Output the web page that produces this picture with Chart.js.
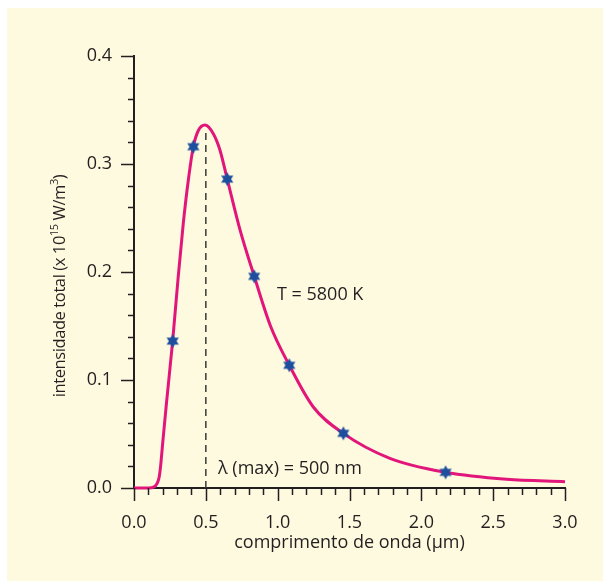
<!DOCTYPE html>
<html>
<head>
<meta charset="utf-8">
<script src="https://cdn.jsdelivr.net/npm/chart.js@4"></script>
<style>
  html, body { margin: 0; padding: 0; background: #fff; }
  canvas { display: block; }
</style>
</head>
<body>
<canvas id="chart" width="603" height="581"></canvas>
<script>
// Planck curve for T = 5800 K (x in um, y in 10^15 W/m^3)
const curveX = [0, 0.05, 0.10, 0.14, 0.16, 0.175, 0.185, 0.20, 0.227, 0.269, 0.308, 0.343, 0.378, 0.413, 0.448, 0.494, 0.552, 0.598, 0.649, 0.738, 0.837, 0.95, 1.081, 1.248, 1.457, 1.781, 2.169, 2.593, 3.0];
const curveY = [0, 0, 0, 0.001, 0.004, 0.010, 0.020, 0.042, 0.080, 0.136, 0.196, 0.245, 0.285, 0.316, 0.331, 0.336, 0.328, 0.313, 0.286, 0.239, 0.196, 0.150, 0.1136, 0.075, 0.0506, 0.0275, 0.0145, 0.008, 0.0058];

// star markers
const starX = [0.269, 0.413, 0.649, 0.837, 1.081, 1.457, 2.169];
const starY = [0.136, 0.316, 0.286, 0.196, 0.1136, 0.0506, 0.0145];

// lambda max marker
const peakX = [0.5, 0.5];
const peakY = [0, 0.333];

const xTicks = [0, 0.5, 1.0, 1.5, 2.0, 2.5, 3.0];
const yTicks = [0, 0.1, 0.2, 0.3, 0.4];

const FONT = '"Open Sans", sans-serif';
const INK = '#231f20';

// six-pointed star used as point style
function makeStar() {
  const c = document.createElement('canvas');
  c.width = 16; c.height = 16;
  const g = c.getContext('2d');
  g.fillStyle = '#1d4f9e';
  g.beginPath();
  for (let i = 0; i < 12; i++) {
    const r = i % 2 === 0 ? 7 : 3.9;
    const a = -Math.PI / 2 + i * Math.PI / 6;
    const px = 8 + r * Math.cos(a), py = 8 + r * Math.sin(a);
    if (i === 0) g.moveTo(px, py); else g.lineTo(px, py);
  }
  g.closePath();
  g.fill();
  return c;
}

const backdrop = {
  id: 'backdrop',
  beforeDraw(chart) {
    const ctx = chart.ctx;
    ctx.save();
    ctx.fillStyle = '#fefadf';
    ctx.fillRect(7, 8, chart.width - 7, chart.height - 8);
    ctx.restore();
  }
};

const decorations = {
  id: 'decorations',
  afterDraw(chart) {
    const ctx = chart.ctx;
    const xs = chart.scales.x, ys = chart.scales.y;
    const left = chart.chartArea.left, bottom = chart.chartArea.bottom;
    ctx.save();
    ctx.strokeStyle = INK;
    ctx.lineWidth = 1.5;
    // x tick marks (minor every 0.1)
    for (let i = 0; i <= 30; i++) {
      const px = Math.round(xs.getPixelForValue(i / 10)) + 0.5;
      const len = i % 5 === 0 ? 13 : 7;
      ctx.beginPath();
      ctx.moveTo(px, bottom);
      ctx.lineTo(px, bottom + len);
      ctx.stroke();
    }
    // y tick marks (minor every 0.02)
    for (let i = 0; i <= 20; i++) {
      const py = Math.round(ys.getPixelForValue(i / 50)) + 0.5;
      const len = i % 5 === 0 ? 13 : 6;
      ctx.beginPath();
      ctx.moveTo(left, py);
      ctx.lineTo(left - len, py);
      ctx.stroke();
    }

    ctx.fillStyle = INK;
    ctx.font = '18px ' + FONT;
    ctx.textBaseline = 'middle';
    ctx.textAlign = 'left';
    ctx.fillText('T = 5800 K', xs.getPixelForValue(0.995), ys.getPixelForValue(0.179));
    ctx.fillText('\u03bb (max) = 500 nm', xs.getPixelForValue(0.585), ys.getPixelForValue(0.0176));

    // x axis title
    ctx.textAlign = 'center';
    ctx.fillText('comprimento de onda (\u03bcm)', (xs.left + xs.right) / 2, 543);

    // y axis title with superscripts
    const parts = [
      ['intensidade total (x 10', false],
      ['15', true],
      [' W/m', false],
      ['3', true],
      [')', false]
    ];
    const big = '16.5px ' + FONT, small = '11px ' + FONT;
    ctx.letterSpacing = '-0.4px';
    let total = 0;
    parts.forEach(([t, sup]) => { ctx.font = sup ? small : big; total += ctx.measureText(t).width; });
    ctx.translate(65, (ys.top + ys.bottom) / 2 + 14);
    ctx.rotate(-Math.PI / 2);
    ctx.textAlign = 'left';
    ctx.textBaseline = 'alphabetic';
    let cx = -total / 2;
    parts.forEach(([t, sup]) => {
      ctx.font = sup ? small : big;
      ctx.fillText(t, cx, sup ? -7 : 0);
      cx += ctx.measureText(t).width;
    });
    ctx.restore();
  }
};

new Chart(document.getElementById('chart'), {
  type: 'scatter',
  data: {
    datasets: [
      {
        data: peakX.map((x, i) => ({ x, y: peakY[i] })),
        showLine: true,
        borderColor: '#3a3a3a',
        borderWidth: 1.5,
        borderDash: [7, 5],
        pointRadius: 0,
        order: 3
      },
      {
        data: curveX.map((x, i) => ({ x, y: curveY[i] })),
        showLine: true,
        borderColor: '#e2157a',
        borderWidth: 3,
        cubicInterpolationMode: 'monotone',
        pointRadius: 0,
        order: 2
      },
      {
        data: starX.map((x, i) => ({ x, y: starY[i] })),
        pointStyle: makeStar(),
        pointRadius: 8,
        order: 1
      }
    ]
  },
  options: {
    responsive: false,
    devicePixelRatio: 1,
    animation: false,
    clip: false,
    layout: { padding: { left: 0, top: 56, right: 38, bottom: 0 } },
    plugins: {
      legend: { display: false },
      tooltip: { enabled: false }
    },
    scales: {
      x: {
        type: 'linear',
        min: 0,
        max: 3,
        afterFit: s => { s.height = 93; },
        afterBuildTicks: s => { s.ticks = xTicks.map(v => ({ value: v })); },
        grid: { display: false },
        border: { display: true, color: INK, width: 2 },
        ticks: {
          color: INK,
          font: { family: FONT, size: 18 },
          padding: 16,
          callback: v => v.toFixed(1)
        }
      },
      y: {
        type: 'linear',
        min: 0,
        max: 0.4,
        afterFit: s => { s.width = 134; },
        afterBuildTicks: s => { s.ticks = yTicks.map(v => ({ value: v })); },
        grid: { display: false },
        border: { display: true, color: INK, width: 2 },
        ticks: {
          color: INK,
          font: { family: FONT, size: 18 },
          padding: 14,
          callback: v => v.toFixed(1)
        }
      }
    }
  },
  plugins: [backdrop, decorations]
});
</script>
</body>
</html>
